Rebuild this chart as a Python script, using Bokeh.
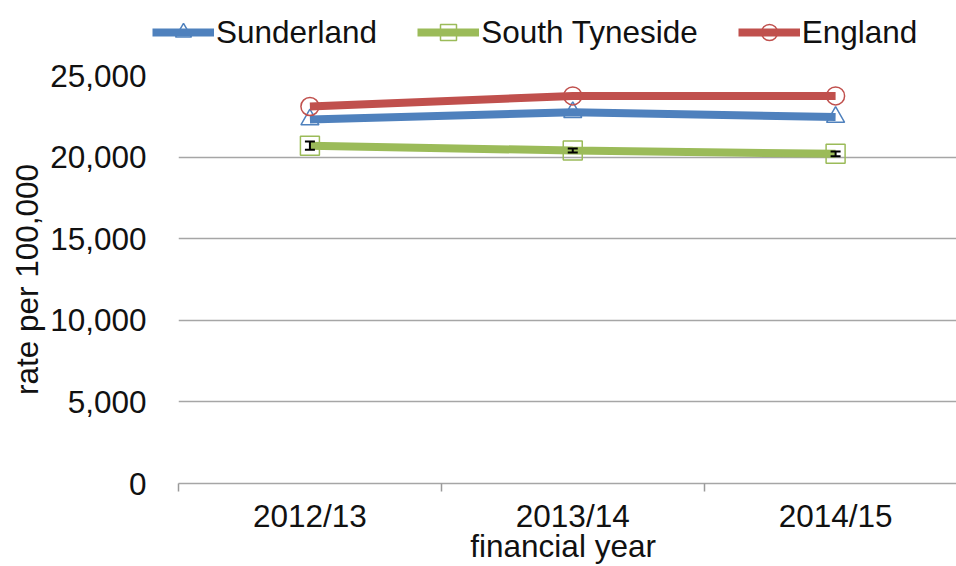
from bokeh.plotting import figure
from bokeh.layouts import column, row
from bokeh.models import (Range1d, FixedTicker, Legend, LegendItem, Whisker,
                          ColumnDataSource, TeeHead, NumeralTickFormatter)
from bokeh.embed import file_html
from bokeh.resources import INLINE

years = ["2012/13", "2013/14", "2014/15"]
sunderland = [22300, 22750, 22450]
south_tyneside = [20700, 20400, 20200]
england = [23100, 23750, 23750]
st_err = [250, 120, 150]
y_ticks = [0, 5000, 10000, 15000, 20000, 25000]

xs = list(range(len(years)))
FONT = "Liberation Sans"
FS = "31.5px"

p = figure(width=956, height=511, output_backend="svg", toolbar_location=None,
           x_range=Range1d(-0.5, 2.46), y_range=Range1d(0, 25000),
           min_border_left=178, min_border_right=0, min_border_top=20,
           min_border_bottom=81)
p.outline_line_color = None
p.background_fill_color = "white"
p.border_fill_color = "white"

# x axis
p.xaxis.ticker = FixedTicker(ticks=xs, minor_ticks=[-0.5, 0.5, 1.5, 2.5])
p.xaxis.major_label_overrides = {i: y for i, y in enumerate(years)}
p.xaxis.major_tick_line_color = None
p.xaxis.minor_tick_line_color = "#9a9a9a"
p.xaxis.minor_tick_line_width = 1.5
p.xaxis.minor_tick_out = 8
p.xaxis.minor_tick_in = 0
p.xaxis.axis_line_color = "#a6a6a6"
p.xaxis.axis_line_width = 1.5
p.xaxis.major_label_text_font = FONT
p.xaxis.major_label_text_font_size = FS
p.xaxis.major_label_text_color = "#111111"
p.xaxis.major_label_standoff = 6
p.xaxis.axis_label = "financial  year"
p.xaxis.axis_label_text_font = FONT
p.xaxis.axis_label_text_font_size = FS
p.xaxis.axis_label_text_font_style = "normal"
p.xaxis.axis_label_text_color = "#111111"
p.xaxis.axis_label_standoff = -9
p.xgrid.grid_line_color = None

# y axis
p.yaxis.ticker = FixedTicker(ticks=y_ticks, minor_ticks=[])
p.yaxis.formatter = NumeralTickFormatter(format="0,0")
p.yaxis.axis_line_color = None
p.yaxis.major_tick_line_color = None
p.yaxis.minor_tick_line_color = None
p.yaxis.major_label_text_font = FONT
p.yaxis.major_label_text_font_size = FS
p.yaxis.major_label_text_color = "#111111"
p.yaxis.major_label_standoff = 26
p.yaxis.axis_label = "rate per 100,000"
p.yaxis.axis_label_text_font = FONT
p.yaxis.axis_label_text_font_size = FS
p.yaxis.axis_label_text_font_style = "normal"
p.yaxis.axis_label_text_color = "#111111"
p.yaxis.axis_label_standoff = 2
p.ygrid.grid_line_color = "#a6a6a6"
p.ygrid.grid_line_width = 1.5

series = [
    ("Sunderland", sunderland, "#4F81BD", "triangle", 18),
    ("South Tyneside", south_tyneside, "#9BBB59", "square", 19),
    ("England", england, "#C0504D", "circle", 18),
]

# legend strip above the chart
lg = figure(width=956, height=55, output_backend="svg", toolbar_location=None,
            x_range=Range1d(0, 1), y_range=Range1d(0, 1),
            x_axis_type=None, y_axis_type=None,
            min_border=0, min_border_left=0, min_border_right=0,
            min_border_top=0, min_border_bottom=0)
lg.grid.grid_line_color = None
lg.outline_line_color = None
lg.background_fill_color = "white"
lg.border_fill_color = "white"

items = []
for name, vals, col, marker, size in series:
    p.scatter(xs, vals, marker=marker, size=size, fill_color=None,
              line_color=col, line_width=1.5)
    p.line(xs, vals, line_color=col, line_width=8)
    # key glyphs only (placed outside the visible range)
    ksc = lg.scatter(x=[-5], y=[-5], marker=marker, size=size,
                     fill_color=None, line_color=col, line_width=1.5)
    kln = lg.line(x=[-5, -4], y=[-5, -5], line_color=col, line_width=8)
    items.append(LegendItem(label=name, renderers=[ksc, kln]))

src = ColumnDataSource(dict(x=xs,
                            lo=[v - e for v, e in zip(south_tyneside, st_err)],
                            hi=[v + e for v, e in zip(south_tyneside, st_err)]))
wh = Whisker(source=src, base="x", lower="lo", upper="hi",
             line_color="black", line_width=2, level="overlay",
             upper_head=TeeHead(size=10, line_color="black", line_width=2),
             lower_head=TeeHead(size=10, line_color="black", line_width=2))
p.add_layout(wh)

legend = Legend(items=items, orientation="horizontal", location=(152, 3),
                label_text_font=FONT, label_text_font_size=FS,
                label_text_color="#111111",
                glyph_width=62, glyph_height=40, label_standoff=2, spacing=40,
                padding=0, margin=0, border_line_color=None,
                background_fill_alpha=0)
lg.add_layout(legend, "center")

layout = column(row(lg), row(p), spacing=0)
open("out.html", "w").write(file_html(layout, INLINE))
